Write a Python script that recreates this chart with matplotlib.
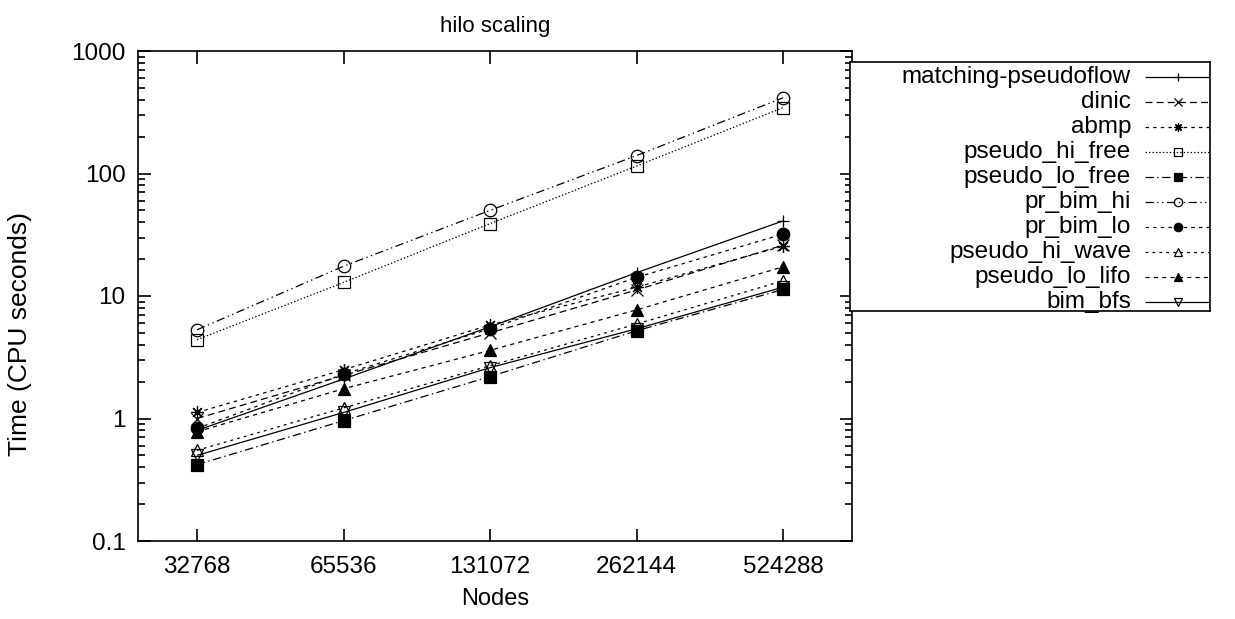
import numpy as np
import matplotlib
matplotlib.use("Agg")
import matplotlib.pyplot as plt
from matplotlib.ticker import FixedLocator, FixedFormatter, LogLocator, NullFormatter

plt.rcParams['font.family'] = ['Liberation Sans', 'DejaVu Sans']
plt.rcParams['lines.scale_dashes'] = False

# ---------------- datos ----------------
nodes = [32768, 65536, 131072, 262144, 524288]

matching_pseudoflow = [0.80, 2.10, 5.6, 15.5, 41.0]
dinic = [1.00, 2.25, 5.0, 11.2, 26.0]
abmp = [1.12, 2.50, 5.8, 11.8, 25.5]
pseudo_hi_free = [4.4, 12.9, 39.0, 115.0, 345.0]
pseudo_lo_free = [0.42, 0.96, 2.2, 5.2, 11.3]
pr_bim_hi = [5.3, 17.5, 50.0, 140.0, 415.0]
pr_bim_lo = [0.83, 2.30, 5.4, 14.2, 32.0]
pseudo_hi_wave = [0.55, 1.22, 2.7, 5.9, 13.3]
pseudo_lo_lifo = [0.78, 1.75, 3.6, 7.7, 17.3]
bim_bfs = [0.50, 1.12, 2.6, 5.4, 11.8]

labels = ['matching-pseudoflow', 'dinic', 'abmp', 'pseudo_hi_free', 'pseudo_lo_free',
          'pr_bim_hi', 'pr_bim_lo', 'pseudo_hi_wave', 'pseudo_lo_lifo', 'bim_bfs']
series = [matching_pseudoflow, dinic, abmp, pseudo_hi_free, pseudo_lo_free,
          pr_bim_hi, pr_bim_lo, pseudo_hi_wave, pseudo_lo_lifo, bim_bfs]

# estilo de cada curva: (patrón de trazo, marcador, relleno)
estilos = [
    ((0, ()), '+', 'none'),
    ((0, (5, 3)), 'x', 'none'),
    ((0, (2.5, 3)), (8, 2, 0), 'none'),
    ((0, (1, 1.5)), 's', 'none'),
    ((0, (6, 2.5, 1, 2.5)), 's', 'black'),
    ((0, (6, 2.5, 1, 2.5, 1, 2.5)), 'o', 'none'),
    ((0, (2.5, 3)), 'o', 'black'),
    ((0, (2, 3)), '^', 'none'),
    ((0, (3, 3)), '^', 'black'),
    ((0, ()), 'v', 'none'),
]

fig = plt.figure(figsize=(12.35, 6.19), dpi=100)
ax = fig.add_axes([138 / 1235, 1 - 541 / 619, 714 / 1235, 490 / 619])

for y, lab, (ls, mk, fc) in zip(series, labels, estilos):
    ax.plot(nodes, y, color='black', linestyle=ls, linewidth=0.9,
            marker=mk, markersize=9, markerfacecolor=fc,
            markeredgecolor='black', markeredgewidth=0.9, label=lab)

ax.set_xscale('log', base=2)
ax.set_yscale('log')
ax.set_xlim(24780, 726700)
ax.set_ylim(0.1, 1000)

ax.xaxis.set_major_locator(FixedLocator(nodes))
ax.xaxis.set_major_formatter(FixedFormatter([str(n) for n in nodes]))
ax.xaxis.set_minor_locator(FixedLocator([]))
ax.set_yticks([0.1, 1, 10, 100, 1000])
ax.set_yticklabels(['0.1', '1', '10', '100', '1000'])
ax.yaxis.set_minor_locator(LogLocator(base=10, subs=np.arange(2, 10)))
ax.yaxis.set_minor_formatter(NullFormatter())

ax.tick_params(which='both', direction='in', top=True, right=True, labelsize=17.5, width=1.2)
ax.tick_params(axis='x', pad=11)
ax.tick_params(axis='y', pad=9)
ax.tick_params(which='major', length=9)
ax.tick_params(which='minor', length=5)
for s in ax.spines.values():
    s.set_linewidth(1.2)

ax.set_xlabel('Nodes', fontsize=17, labelpad=7)
ax.set_ylabel('Time (CPU seconds)', fontsize=19)
ax.yaxis.set_label_coords(-0.148, 0.422)
ax.set_title('hilo scaling', fontsize=16, pad=14)

# ------------- leyenda dibujada a mano -------------
lx0, ly0, lx1, ly1 = 850, 62, 1210, 311
leg = fig.add_axes([lx0 / 1235, 1 - ly1 / 619, (lx1 - lx0) / 1235, (ly1 - ly0) / 619])
leg.set_xlim(lx0, lx1)
leg.set_ylim(ly1, ly0)
leg.set_xticks([])
leg.set_yticks([])
for s in leg.spines.values():
    s.set_linewidth(1.2)

for i, (lab, (ls, mk, fc)) in enumerate(zip(labels, estilos)):
    yy = 77 + i * 25
    leg.text(1131, yy, lab, ha='right', va='center', fontsize=17.5)
    leg.plot([1145, 1212], [yy, yy], color='black', linestyle=ls, linewidth=0.9, clip_on=True)
    leg.plot([1178], [yy], color='black', marker=mk, markersize=6, markerfacecolor=fc,
             markeredgecolor='black', markeredgewidth=0.9)

fig.savefig('out.png', dpi=100)
